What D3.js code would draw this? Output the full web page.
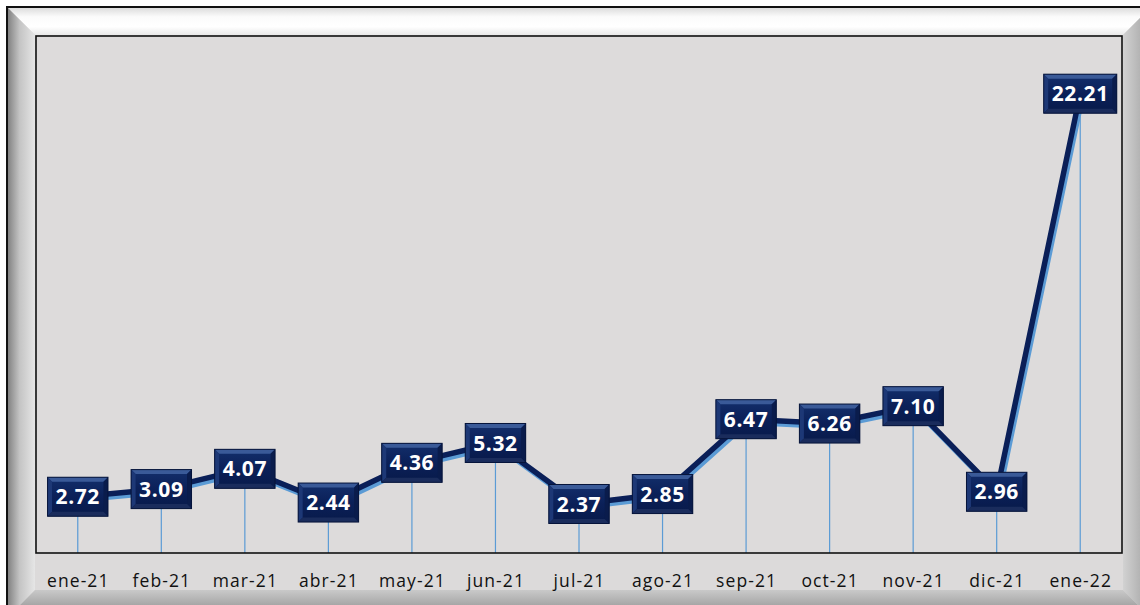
<!DOCTYPE html>
<html>
<head>
<meta charset="utf-8">
<script src="https://cdn.jsdelivr.net/npm/d3@7"></script>
<style>
  body { margin: 0; background: #ffffff; }
  svg { display: block; }
</style>
</head>
<body>
<div class="chart"></div>
<script>
// Chart values
const months = ["ene-21", "feb-21", "mar-21", "abr-21", "may-21", "jun-21", "jul-21",
  "ago-21", "sep-21", "oct-21", "nov-21", "dic-21", "ene-22"];
const values = [2.72, 3.09, 4.07, 2.44, 4.36, 5.32, 2.37, 2.85, 6.47, 6.26, 7.10, 2.96, 22.21];
const yDomain = [0, 25];

const width = 1140
const height = 605
const plot = { left: 36, right: 1122, top: 36, bottom: 553 };
const frame = { x0: 7, y0: 7, x1: 1151, y1: 618, bevel: 28 };

const svg = d3.select(".chart")
  .append("svg")
  .attr("width", width)
  .attr("height", height)

const defs = svg.append("defs");

// gradients for the bevelled frame and the label boxes
function grad(id, x1, y1, x2, y2, stops) {
  const g = defs.append("linearGradient")
    .attr("id", id)
    .attr("x1", x1).attr("y1", y1).attr("x2", x2).attr("y2", y2);
  stops.forEach(s => g.append("stop").attr("offset", s[0]).attr("stop-color", s[1]));
}
grad("bevTop", 0, 0, 0, 1, [[0, "#d9d9d9"], [0.35, "#fbfbfb"], [0.7, "#ffffff"], [1, "#e9e9e9"]]);
grad("bevLeft", 0, 0, 1, 0, [[0, "#7d7d7d"], [0.45, "#c4c4c4"], [1, "#e6e6e6"]]);
grad("bevRight", 0, 0, 1, 0, [[0, "#d2d2d2"], [0.6, "#b4b4b4"], [1, "#8c8c8c"]]);
grad("bevBottom", 0, 0, 0, 1, [[0, "#c9c9c9"], [0.5, "#a9a9a9"], [1, "#808080"]]);
grad("boxFill", 0, 0, 0, 1, [[0, "#132f6c"], [0.5, "#0b2058"], [1, "#081a4a"]]);

// outer chart area
svg.append("rect")
  .attr("x", frame.x0)
  .attr("y", frame.y0)
  .attr("width", frame.x1 - frame.x0)
  .attr("height", frame.y1 - frame.y0)
  .attr("fill", "#dcdada")
  .attr("stroke", "#111")
  .attr("stroke-width", 2);

const b = frame.bevel;
const ix0 = frame.x0 + b, iy0 = frame.y0 + b, ix1 = frame.x1 - b, iy1 = frame.y1 - b;
const bevels = [
  { fill: "url(#bevTop)", pts: [[frame.x0, frame.y0], [frame.x1, frame.y0], [ix1, iy0], [ix0, iy0]] },
  { fill: "url(#bevLeft)", pts: [[frame.x0, frame.y0], [ix0, iy0], [ix0, iy1], [frame.x0, frame.y1]] },
  { fill: "url(#bevRight)", pts: [[frame.x1, frame.y0], [frame.x1, frame.y1], [ix1, iy1], [ix1, iy0]] },
  { fill: "url(#bevBottom)", pts: [[frame.x0, frame.y1], [ix0, iy1], [ix1, iy1], [frame.x1, frame.y1]] }
];
svg.selectAll("polygon.bevel")
  .data(bevels)
  .join("polygon")
  .attr("class", "bevel")
  .attr("points", d => d.pts.map(p => p.join(",")).join(" "))
  .attr("fill", d => d.fill);

// outer border line on top of the bevel
svg.append("rect")
  .attr("x", frame.x0)
  .attr("y", frame.y0)
  .attr("width", frame.x1 - frame.x0)
  .attr("height", frame.y1 - frame.y0)
  .attr("fill", "none")
  .attr("stroke", "#111")
  .attr("stroke-width", 2);

// scales
const x = d3.scalePoint()
  .domain(months)
  .range([plot.left, plot.right])
  .padding(0.5);

const y = d3.scaleLinear()
  .domain(yDomain)
  .range([plot.bottom, plot.top]);

// plot area
svg.append("rect")
  .attr("x", plot.left)
  .attr("y", plot.top)
  .attr("width", plot.right - plot.left)
  .attr("height", plot.bottom - plot.top)
  .attr("fill", "#dddbdb");

const data = months.map((m, i) => ({ month: m, value: values[i] }));

// drop lines
svg.append("g")
  .selectAll("line")
  .data(data)
  .join("line")
  .attr("x1", d => x(d.month))
  .attr("x2", d => x(d.month))
  .attr("y1", d => y(d.value))
  .attr("y2", plot.bottom)
  .attr("stroke", "#5b9bd5")
  .attr("stroke-width", 1.2);

const line = d3.line()
  .x(d => x(d.month))
  .y(d => y(d.value));

// shadow of the line
svg.append("path")
  .datum(data)
  .attr("d", line)
  .attr("transform", "translate(2,3)")
  .attr("fill", "none")
  .attr("stroke", "#5b9bd5")
  .attr("stroke-width", 5.5)
  .attr("stroke-linejoin", "round");

svg.append("path")
  .datum(data)
  .attr("d", line)
  .attr("fill", "none")
  .attr("stroke", "#0a1f58")
  .attr("stroke-width", 5.5)
  .attr("stroke-linejoin", "round");

// plot border
svg.append("rect")
  .attr("x", plot.left)
  .attr("y", plot.top)
  .attr("width", plot.right - plot.left)
  .attr("height", plot.bottom - plot.top)
  .attr("fill", "none")
  .attr("stroke", "#111")
  .attr("stroke-width", 1.6);

// x axis labels
const xAxis = svg.append("g")
  .attr("transform", `translate(0,${plot.bottom})`)
  .call(d3.axisBottom(x).tickSize(0).tickPadding(22));
xAxis.select(".domain").remove();
xAxis.selectAll("text")
  .style("font-family", "'Open Sans', sans-serif")
  .style("font-size", "17.5px")
  .style("letter-spacing", "1.1px")
  .attr("fill", "#111");

// data labels: bevelled navy boxes
const labels = svg.append("g")
  .selectAll("g")
  .data(data)
  .join("g")
  .attr("transform", d => `translate(${x(d.month)},${y(d.value)})`);

labels.append("text")
  .text(d => d.value.toFixed(2))
  .attr("text-anchor", "middle")
  .attr("dy", "0.36em")
  .style("font-family", "'Open Sans', sans-serif")
  .style("font-weight", "bold")
  .style("font-size", "21px")
  .style("letter-spacing", "0.6px")
  .attr("fill", "#ffffff");

labels.each(function () {
  const g = d3.select(this);
  const w = g.select("text").node().getComputedTextLength() + 16;
  const h = 39;
  const e = 4.5;
  const x0 = -w / 2, x1 = w / 2, y0 = -h / 2, y1 = h / 2;
  const box = g.insert("g", "text");
  box.append("rect")
    .attr("x", x0).attr("y", y0).attr("width", w).attr("height", h)
    .attr("fill", "url(#boxFill)");
  const faces = [
    { c: "#3a5a98", p: [[x0, y0], [x1, y0], [x1 - e, y0 + e], [x0 + e, y0 + e]] },
    { c: "#1d3876", p: [[x0, y0], [x0 + e, y0 + e], [x0 + e, y1 - e], [x0, y1]] },
    { c: "#0a1c4c", p: [[x1, y0], [x1, y1], [x1 - e, y1 - e], [x1 - e, y0 + e]] },
    { c: "#1a2c5c", p: [[x0, y1], [x0 + e, y1 - e], [x1 - e, y1 - e], [x1, y1]] }
  ];
  box.selectAll("polygon")
    .data(faces)
    .join("polygon")
    .attr("points", d => d.p.map(p => p.join(",")).join(" "))
    .attr("fill", d => d.c);
  box.append("rect")
    .attr("x", x0).attr("y", y0).attr("width", w).attr("height", h)
    .attr("fill", "none")
    .attr("stroke", "#06143a")
    .attr("stroke-width", 1);
});
</script>
</body>
</html>
